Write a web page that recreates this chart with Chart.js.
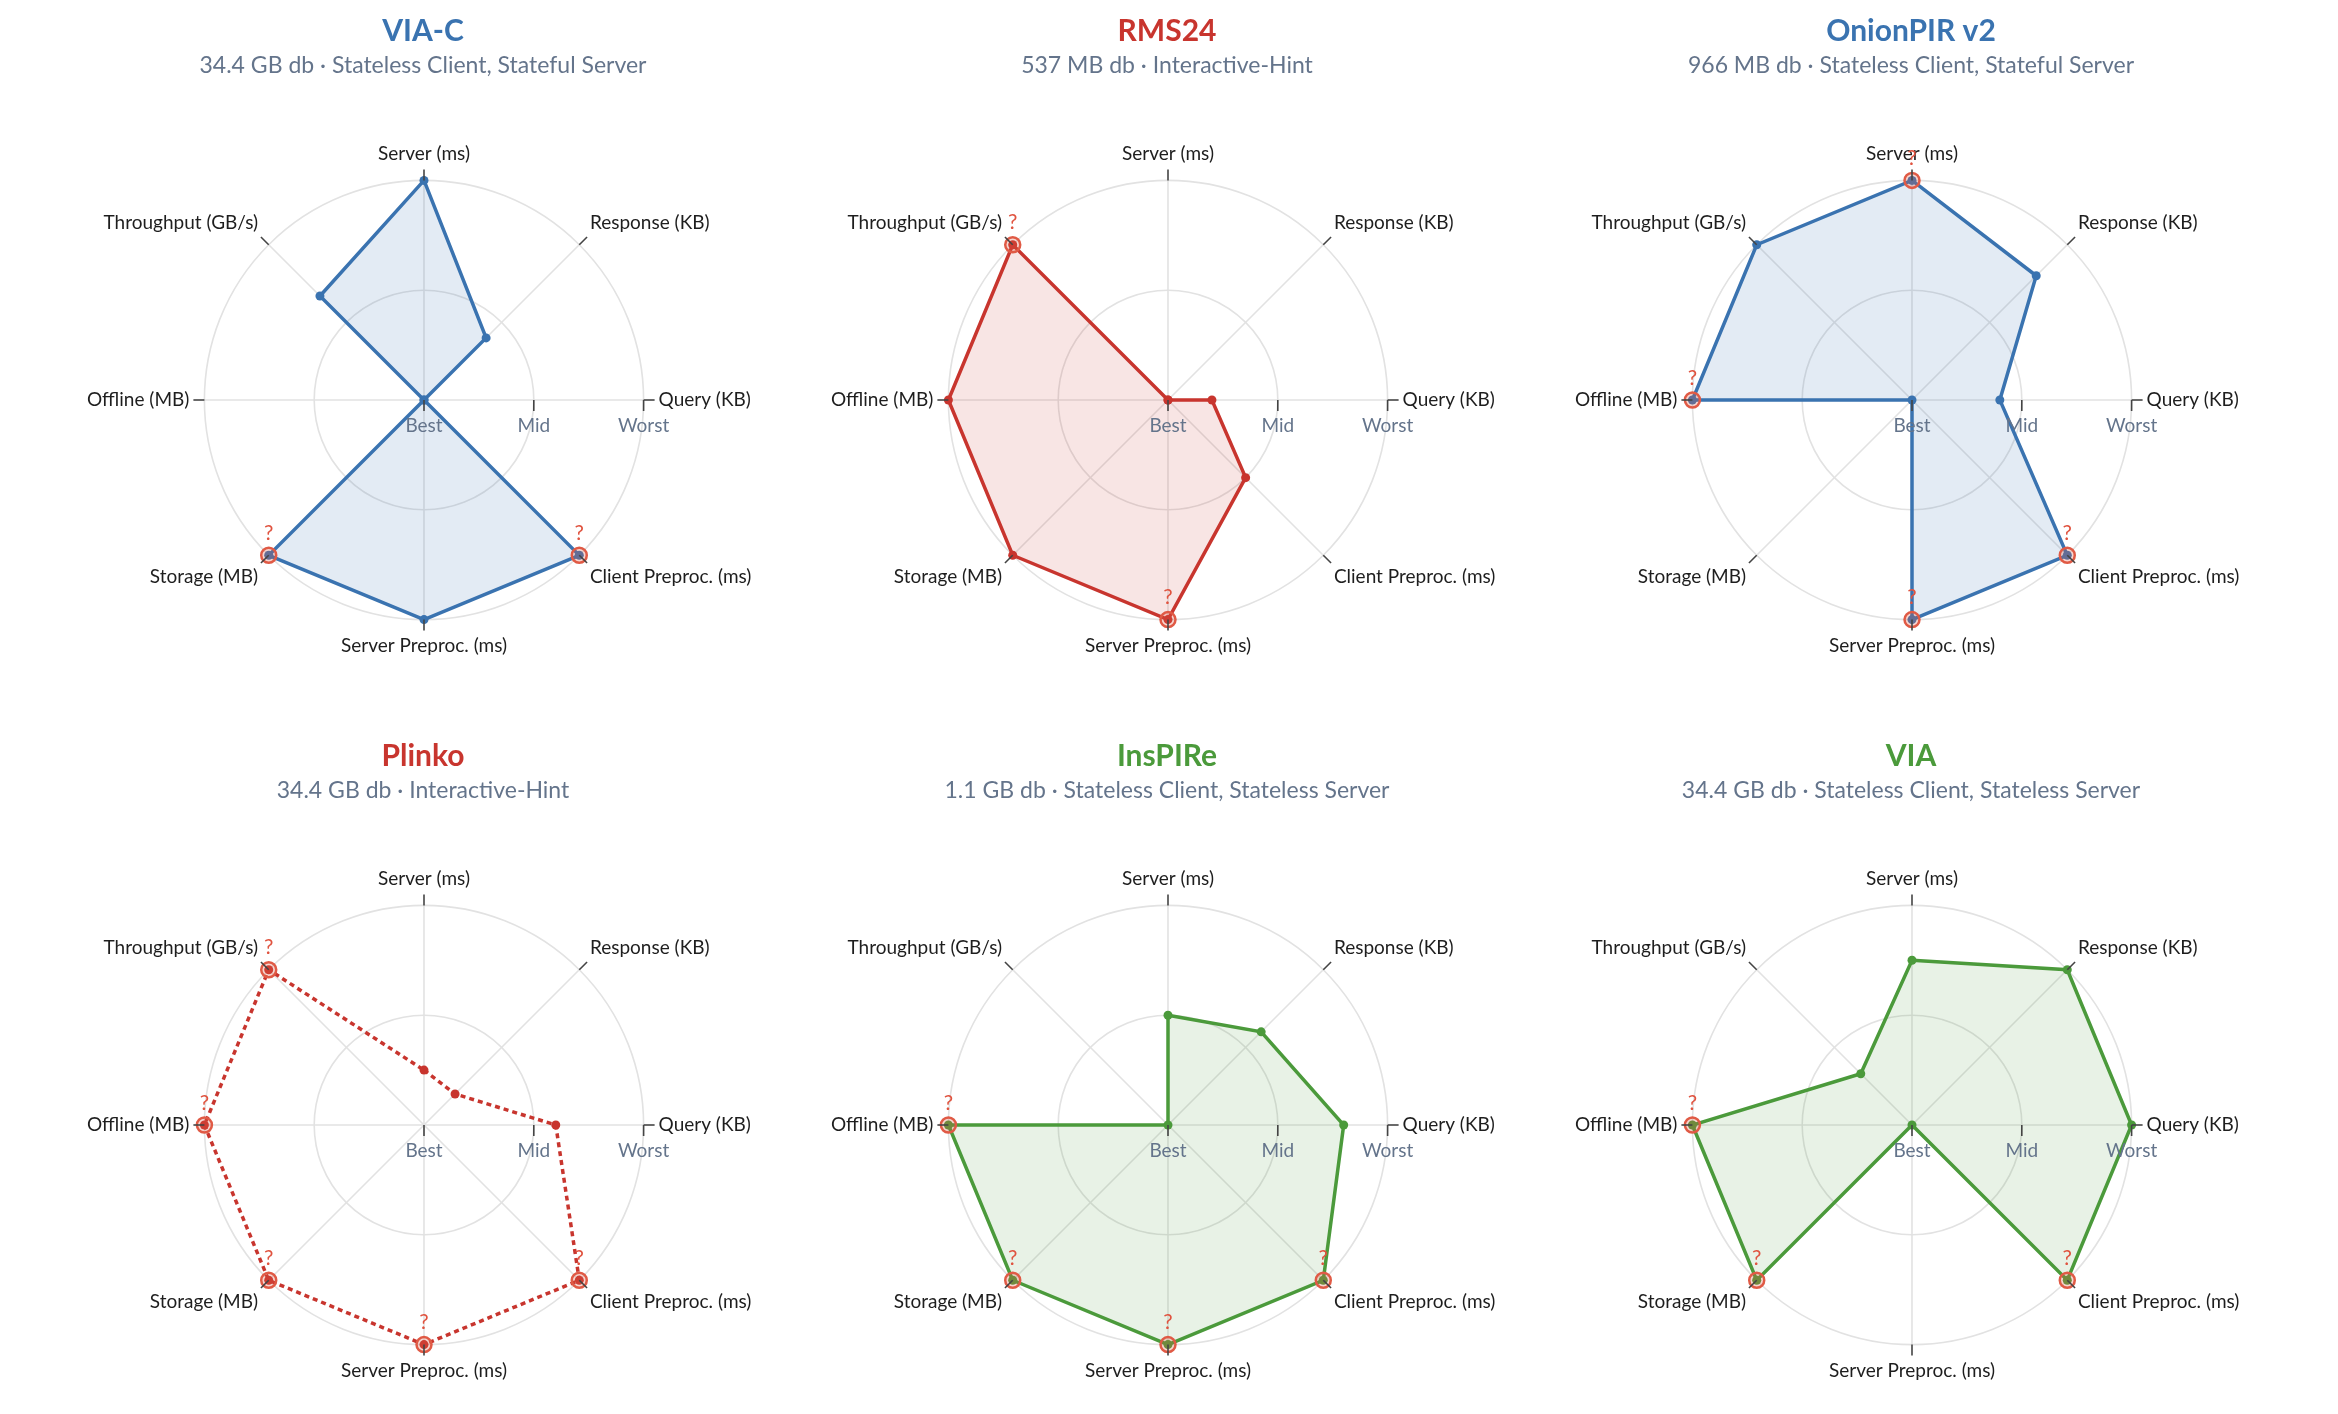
<!DOCTYPE html>
<html>
<head>
<meta charset="utf-8">
<script src="https://cdn.jsdelivr.net/npm/chart.js@4.4.1/dist/chart.umd.min.js"></script>
<style>
  body { margin: 0; background: #fff; }
  #grid { position: absolute; left: 51px; top: 0; display: grid; grid-template-columns: repeat(3, 744px); grid-auto-rows: 725px; }
  canvas { display: block; }
</style>
</head>
<body>
<div id="grid"></div>
<script>
// axes, clockwise from the top
var axes = ['Server (ms)', 'Response (KB)', 'Query (KB)', 'Client Preproc. (ms)', 'Server Preproc. (ms)', 'Storage (MB)', 'Offline (MB)', 'Throughput (GB/s)'];
var tickValues = [0, 0.5, 1];
var tickLabels = ['Best', 'Mid', 'Worst'];

var schemes = ['VIA-C', 'RMS24', 'OnionPIR v2', 'Plinko', 'InsPIRe', 'VIA'];
var subtitles = [
    '34.4 GB db \u00b7 Stateless Client, Stateful Server',
    '537 MB db \u00b7 Interactive-Hint',
    '966 MB db \u00b7 Stateless Client, Stateful Server',
    '34.4 GB db \u00b7 Interactive-Hint',
    '1.1 GB db \u00b7 Stateless Client, Stateless Server',
    '34.4 GB db \u00b7 Stateless Client, Stateless Server'
];

// normalised scores: 0 = best (centre), 1 = worst (outer ring)
var viaC      = [1, 0.4, 0, 1, 1, 1, 0, 0.67];
var rms24     = [0, 0, 0.2, 0.5, 1, 1, 1, 1];
var onionPir  = [1, 0.8, 0.4, 1, 1, 0, 1, 1];
var plinko    = [0.25, 0.2, 0.6, 1, 1, 1, 1, 1];
var insPire   = [0.5, 0.6, 0.8, 1, 1, 1, 1, 0];
var via       = [0.75, 1, 1, 1, 0, 1, 1, 0.33];
var scores = [viaC, rms24, onionPir, plinko, insPire, via];

// 1 = value not reported (drawn at worst with a "?")
var viaCMissing     = [0, 0, 0, 1, 0, 1, 0, 0];
var rms24Missing    = [0, 0, 0, 0, 1, 0, 0, 1];
var onionPirMissing = [1, 0, 0, 1, 1, 0, 1, 0];
var plinkoMissing   = [0, 0, 0, 1, 1, 1, 1, 1];
var insPireMissing  = [0, 0, 0, 1, 1, 1, 1, 0];
var viaMissing      = [0, 0, 0, 1, 0, 1, 1, 0];
var missing = [viaCMissing, rms24Missing, onionPirMissing, plinkoMissing, insPireMissing, viaMissing];

var colors = ['#3a73b0', '#c8352e', '#3a73b0', '#c8352e', '#4b9a3b', '#4b9a3b'];
var fills = ['rgba(58,115,176,0.14)', 'rgba(200,53,46,0.13)', 'rgba(58,115,176,0.14)', 'rgba(200,53,46,0)', 'rgba(75,154,59,0.13)', 'rgba(75,154,59,0.13)'];
var dashed = [false, false, false, true, false, false];

var FONT = 'Lato, "Noto Sans", sans-serif';

var radarExtras = {
    id: 'radarExtras',
    afterDatasetsDraw: function(chart) {
        var ctx = chart.ctx;
        var scale = chart.scales.r;
        var flags = chart.options.plugins.radarExtras.missing;
        var meta = chart.getDatasetMeta(0);
        ctx.save();

        // rings round the missing values
        meta.data.forEach(function(pt, i) {
            if (!flags[i]) return;
            ctx.beginPath();
            ctx.arc(pt.x, pt.y, 7.5, 0, Math.PI * 2);
            ctx.fillStyle = 'rgba(224,90,69,0.25)';
            ctx.fill();
            ctx.lineWidth = 2.5;
            ctx.strokeStyle = '#e05a45';
            ctx.stroke();
        });

        // outer ticks on every axis
        ctx.strokeStyle = '#444';
        ctx.lineWidth = 1.6;
        for (var i = 0; i < axes.length; i++) {
            var a = scale.getPointPosition(i, scale.drawingArea);
            var b = scale.getPointPosition(i, scale.drawingArea + 11);
            ctx.beginPath();
            ctx.moveTo(a.x, a.y);
            ctx.lineTo(b.x, b.y);
            ctx.stroke();
        }

        // Best / Mid / Worst along the Query axis
        ctx.font = '19px ' + FONT;
        ctx.fillStyle = '#64748b';
        ctx.textAlign = 'center';
        ctx.textBaseline = 'middle';
        tickValues.forEach(function(v, k) {
            var p = scale.getPointPositionForValue(2, v);
            ctx.beginPath();
            ctx.moveTo(p.x, p.y);
            ctx.lineTo(p.x, p.y + 11);
            ctx.stroke();
            ctx.fillText(tickLabels[k], p.x, p.y + 26);
        });

        // question marks
        ctx.font = '21px ' + FONT;
        ctx.fillStyle = '#e0533f';
        meta.data.forEach(function(pt, i) {
            if (flags[i]) ctx.fillText('?', pt.x, pt.y - 22);
        });
        ctx.restore();
    }
};

var grid = document.getElementById('grid');
schemes.forEach(function(name, n) {
    var canvas = document.createElement('canvas');
    canvas.width = 744;
    canvas.height = 725;
    grid.appendChild(canvas);

    new Chart(canvas.getContext('2d'), {
        type: 'radar',
        data: {
            labels: axes,
            datasets: [{
                label: name,
                data: scores[n],
                borderColor: colors[n],
                backgroundColor: fills[n],
                borderWidth: 3.5,
                borderDash: dashed[n] ? [5, 4] : [],
                fill: true,
                pointRadius: 4.5,
                pointBorderWidth: 0,
                pointBackgroundColor: colors[n]
            }]
        },
        options: {
            responsive: false,
            animation: false,
            devicePixelRatio: 1,
            layout: { padding: { top: 0, bottom: 66 } },
            plugins: {
                legend: { display: false },
                tooltip: { enabled: false },
                title: {
                    display: true,
                    text: name,
                    color: colors[n],
                    font: { family: FONT, size: 30, weight: 'bold' },
                    padding: { top: 13, bottom: 0 }
                },
                subtitle: {
                    display: true,
                    text: subtitles[n],
                    color: '#64748b',
                    font: { family: FONT, size: 23 },
                    padding: { top: 3, bottom: 63 }
                },
                radarExtras: { missing: missing[n] }
            },
            scales: {
                r: {
                    min: 0,
                    max: 1,
                    ticks: { display: false, stepSize: 0.5 },
                    grid: { circular: true, color: '#e2e2e2', lineWidth: 1.6 },
                    angleLines: { color: '#e2e2e2', lineWidth: 1.6 },
                    pointLabels: {
                        color: '#1e1e1e',
                        padding: 15,
                        font: { family: FONT, size: 19 }
                    }
                }
            }
        },
        plugins: [radarExtras]
    });
});
</script>
</body>
</html>
